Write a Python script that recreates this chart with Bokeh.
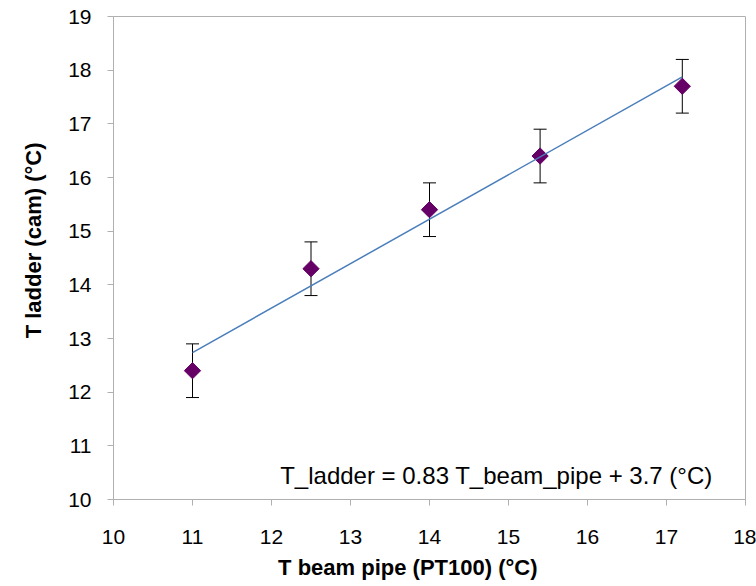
import numpy as np
from bokeh.plotting import figure
from bokeh.models import (ColumnDataSource, Whisker, TeeHead, Title, Label,
                          SingleIntervalTicker, Range1d)
from bokeh.embed import file_html
from bokeh.resources import INLINE

# ---- data ----
t_beam_pipe = [11.0, 12.5, 14.0, 15.4, 17.2]
t_ladder = [12.4, 14.3, 15.4, 16.4, 17.7]
t_err = [0.5, 0.5, 0.5, 0.5, 0.5]
x_label = "T beam pipe (PT100) (°C)"
y_label = "T ladder (cam) (°C)"
fit_text = "T_ladder = 0.83 T_beam_pipe + 3.7 (°C)"
x_range = (10, 18)
y_range = (10, 19)

FONT = "Liberation Sans"
AXIS_COLOR = "#B0B0B0"

lower = [v - e for v, e in zip(t_ladder, t_err)]
upper = [v + e for v, e in zip(t_ladder, t_err)]
src = ColumnDataSource(dict(x=t_beam_pipe, y=t_ladder, lower=lower, upper=upper))

slope, intercept = np.polyfit(t_beam_pipe, t_ladder, 1)
fx = [min(t_beam_pipe), max(t_beam_pipe)]
fy = [slope * v + intercept for v in fx]

p = figure(width=756, height=586, output_backend="svg", toolbar_location=None,
           x_range=Range1d(*x_range), y_range=Range1d(*y_range))
p.min_border_left = 113
p.min_border_right = 11
p.min_border_top = 16
p.min_border_bottom = 87
p.background_fill_color = "white"
p.border_fill_color = "white"
p.outline_line_color = AXIS_COLOR
p.outline_line_width = 1
p.xgrid.visible = False
p.ygrid.visible = False

for ax in (p.xaxis[0], p.yaxis[0]):
    ax.ticker = SingleIntervalTicker(interval=1)
    ax.minor_tick_line_color = None
    ax.major_tick_in = 0
    ax.major_tick_out = 6
    ax.axis_line_color = AXIS_COLOR
    ax.major_tick_line_color = AXIS_COLOR
    ax.major_label_text_font = FONT
    ax.major_label_text_font_size = "21px"
    ax.major_label_text_color = "black"
p.yaxis[0].major_label_standoff = 16
p.xaxis[0].major_label_standoff = 24

# error bars
w = Whisker(source=src, base="x", lower="lower", upper="upper",
            line_color="black", line_width=1,
            upper_head=TeeHead(size=13, line_color="black", line_width=1),
            lower_head=TeeHead(size=13, line_color="black", line_width=1))
p.add_layout(w)

p.scatter("x", "y", source=src, marker="square", size=11.5, angle=np.pi / 4,
          fill_color="#660066", line_color="#660066")

p.line(fx, fy, line_color="#4A7EBB", line_width=1.5)

p.add_layout(Label(x=12.11, y=10.45, text=fit_text, text_font=FONT,
                   text_font_size="24px", text_color="black",
                   text_baseline="alphabetic"))

tx = Title(text=x_label, align="right", offset=208, text_font=FONT,
           text_font_size="22px", text_font_style="bold", standoff=13,
           vertical_align="bottom", text_color="black")
p.add_layout(tx, "below")
ty = Title(text=y_label, align="right", offset=126, text_font=FONT,
           text_font_size="22px", text_font_style="bold", standoff=36,
           vertical_align="top", text_color="black")
p.add_layout(ty, "left")

open("out.html", "w").write(file_html(p, INLINE))
